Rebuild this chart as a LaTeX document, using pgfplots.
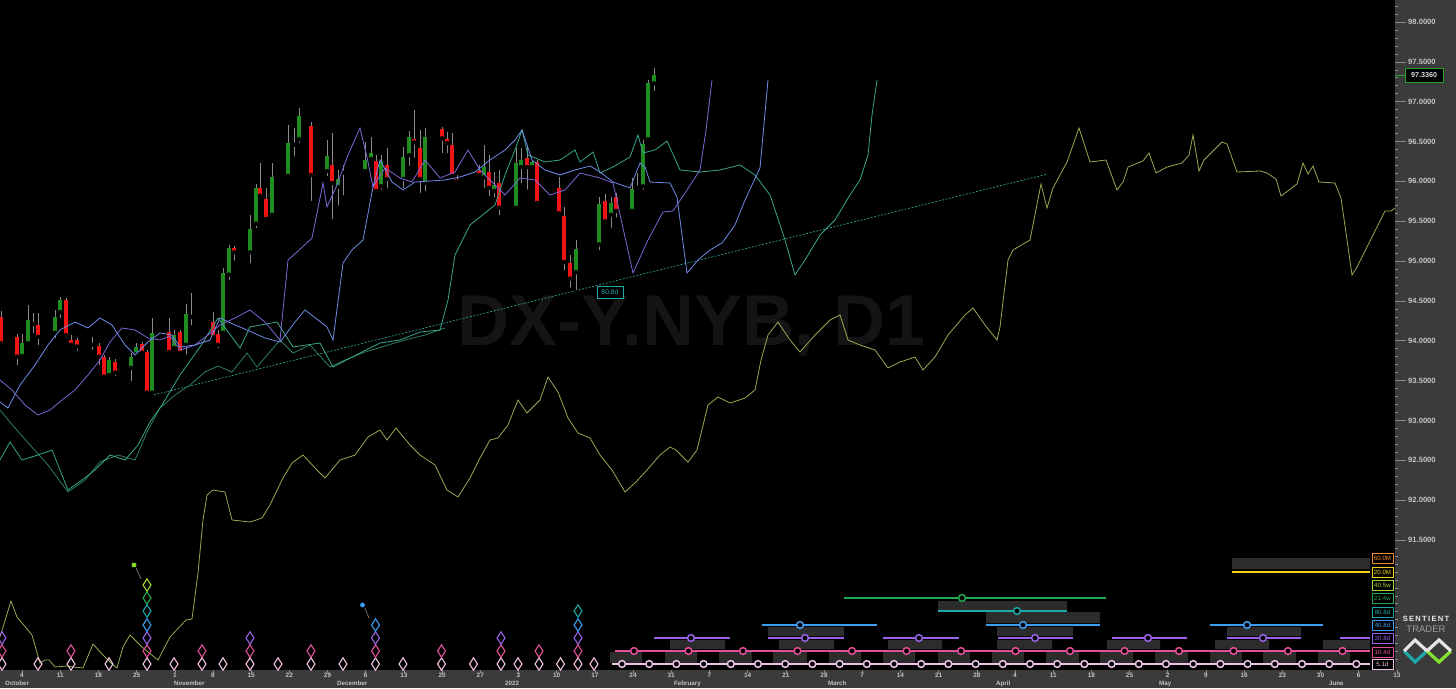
\documentclass[border=0pt]{standalone}
\usepackage{pgfplots}
\pgfplotsset{compat=1.18}
\usepackage{pgfplotstable}
\usepackage{fontspec}
\setmainfont{Liberation Sans}

\definecolor{panel}{HTML}{3B3B3B}
\definecolor{tickc}{HTML}{8C8C8C}
\definecolor{labc}{HTML}{C4C4C4}
\definecolor{upc}{HTML}{1E8C1E}
\definecolor{dnc}{HTML}{F01414}
\definecolor{wickc}{HTML}{8A8A8A}
\definecolor{wm}{HTML}{141414}
\definecolor{trendc}{HTML}{2E9E8E}
\definecolor{lblue}{HTML}{6F8CE6}
\definecolor{lpurple}{HTML}{7E66D6}
\definecolor{lteal}{HTML}{3AA58F}
\definecolor{lgreen}{HTML}{2E7E62}
\definecolor{olive}{HTML}{94AC52}
\definecolor{c51}{HTML}{EEC4E2}
\definecolor{c104}{HTML}{E2509A}
\definecolor{c208}{HTML}{9A62E6}
\definecolor{c408}{HTML}{3D9DF0}
\definecolor{c808}{HTML}{1FA8A8}
\definecolor{c214}{HTML}{22A850}
\definecolor{c405}{HTML}{A4D838}
\definecolor{c20M}{HTML}{F2D21E}
\definecolor{c60M}{HTML}{F08A24}
\definecolor{rectc}{HTML}{2C2C2C}
\definecolor{cpb}{HTML}{22A022}

% candles: x (pixel position), open, high, low, close
\pgfplotstableread{
x o h l c
22 93.81 94.09 93.78 93.97
28 93.97 94.45 93.95 94.26
55 94.10 94.39 94.01 94.30
60 94.36 94.55 94.26 94.51
92 93.95 94.05 93.86 93.96
109 93.57 93.80 93.53 93.76
131 93.66 93.85 93.47 93.80
136 93.83 93.97 93.80 93.92
152 93.35 94.29 93.30 94.10
174 93.91 94.14 93.86 94.07
186 93.95 94.46 93.80 94.34
223 94.10 94.91 94.07 94.85
229 94.83 95.20 94.74 95.16
250 95.11 95.58 94.95 95.40
256 95.47 95.97 95.39 95.92
272 95.58 96.23 95.54 96.05
288 96.07 96.71 96.02 96.48
294 96.46 96.67 96.29 96.47
299 96.53 96.92 96.46 96.82
327 96.13 96.52 96.04 96.32
338 95.93 96.14 95.67 96.03
343 96.11 96.21 95.80 96.12
365 96.13 96.49 96.11 96.27
371 96.28 96.56 96.24 96.36
381 95.94 96.33 95.87 96.26
403 96.03 96.43 95.89 96.31
409 96.33 96.63 96.17 96.56
425 95.98 96.67 95.85 96.56
484 96.05 96.46 95.89 96.18
494 95.88 96.12 95.77 95.95
516 95.67 96.42 95.62 96.23
521 96.18 96.42 95.95 96.27
532 96.18 96.27 96.14 96.24
576 94.86 95.26 94.61 95.15
599 95.21 95.80 95.11 95.72
611 95.58 95.80 95.39 95.73
632 95.63 96.04 95.59 95.91
637 95.92 96.11 95.88 95.93
643 95.94 96.52 95.87 96.47
648 96.53 97.27 96.48 97.23
654 97.23 97.42 97.11 97.34
}\candup

\pgfplotstableread{
x o h l c
1 94.30 94.37 93.95 93.97
17 94.05 94.09 93.67 93.80
33 94.24 94.35 94.07 94.21
38 94.20 94.35 93.92 94.05
66 94.51 94.54 94.01 94.07
71 94.01 94.07 93.91 93.95
77 94.01 94.04 93.85 93.93
99 93.93 93.97 93.67 93.80
104 93.80 93.82 93.51 93.55
115 93.73 93.77 93.53 93.60
142 93.96 93.99 93.80 93.85
147 93.86 93.88 93.30 93.35
169 94.11 94.29 93.83 93.86
180 94.11 94.14 93.81 93.85
191 94.32 94.60 94.17 94.30
213 94.24 94.36 94.01 94.05
218 94.09 94.14 93.88 93.95
234 95.16 95.19 94.98 95.11
260 95.92 96.23 95.77 95.82
266 95.78 95.92 95.49 95.53
311 96.70 96.75 95.73 96.08
332 96.21 96.61 95.50 95.98
376 96.26 96.33 95.83 95.88
387 96.21 96.42 95.89 96.03
414 96.53 96.90 96.27 96.49
420 96.42 96.64 95.83 96.03
442 96.66 96.68 96.33 96.54
447 96.53 96.62 96.33 96.48
452 96.46 96.61 96.02 96.07
457 96.03 96.08 95.98 96.00
479 96.13 96.21 96.04 96.08
489 96.12 96.33 95.79 95.92
499 95.98 96.14 95.55 95.67
527 96.29 96.46 95.87 96.18
537 96.24 96.27 95.69 95.73
559 95.92 96.05 95.55 95.60
564 95.57 95.68 94.86 94.99
570 94.98 95.08 94.64 94.78
605 95.75 95.84 95.45 95.50
616 95.80 95.85 95.52 95.63
}\canddn

\begin{document}
\begin{tikzpicture}[x=1pt,y=1pt]
\useasboundingbox (0,0) rectangle (1456,688);
\fill[black] (0,18) rectangle (1395,688);
\fill[panel] (1395,0) rectangle (1456,688);
\fill[panel] (0,0) rectangle (1395,18);
\node[text=wm, font=\fontsize{72}{72}\selectfont\bfseries] at (692,362) {DX-Y.NYB, D1};

% ---------- price axis ----------
\begin{axis}[at={(0pt,18pt)}, anchor=south west, width=1395pt, height=670pt, scale only axis,
  xmin=0, xmax=1395, ymin=89.869, ymax=98.276,
  axis line style={draw=none}, xtick=\empty,
  ytick={91.5,92,92.5,93,93.5,94,94.5,95,95.5,96,96.5,97,97.5,98},
  minor ytick={90,90.1,...,98.2},
  ytick pos=right, yticklabel pos=right, tick align=outside,
  major tick length=11pt, minor tick length=3pt,
  tick style={tickc, line width=0.6pt},
  /pgf/number format/assume math mode=true,
  yticklabel style={/pgf/number format/.cd, fixed, fixed zerofill, precision=4, /tikz/.cd,
     font=\fontsize{7.6}{8}\selectfont\bfseries, text=labc, inner sep=2pt},
  clip=false]
% wicks
\addplot[only marks, mark=none, forget plot, error bars/.cd, y dir=plus, y explicit, error mark=none,
  error bar style={line width=0.8pt, wickc}] table[x=x, y=l, y error plus expr=\thisrow{h}-\thisrow{l}] {\candup};
\addplot[only marks, mark=none, forget plot, error bars/.cd, y dir=plus, y explicit, error mark=none,
  error bar style={line width=0.8pt, wickc}] table[x=x, y=l, y error plus expr=\thisrow{h}-\thisrow{l}] {\canddn};
% bodies
\addplot[only marks, mark=none, forget plot, error bars/.cd, y dir=plus, y explicit, error mark=none,
  error bar style={line width=4.4pt, upc}] table[x=x, y=o, y error plus expr=\thisrow{c}-\thisrow{o}] {\candup};
\addplot[only marks, mark=none, forget plot, error bars/.cd, y dir=plus, y explicit, error mark=none,
  error bar style={line width=4.4pt, dnc}] table[x=x, y=c, y error plus expr=\thisrow{o}-\thisrow{c}] {\canddn};
% trend line
\addplot[trendc, line width=0.7pt, dash pattern=on 2pt off 1.5pt] coordinates {(147,93.30) (1047,96.09)};
\node[draw=c808, text=c808, fill=black, font=\fontsize{6.8}{7}\selectfont, inner sep=0pt,
  minimum width=26pt, minimum height=12pt, line width=0.6pt] at (axis cs:610,94.606) {80.8d};
% last price
\addplot[cpb, line width=0.8pt] coordinates {(1395,97.336) (1405,97.336)};
\node[draw=cpb, fill=black, text=white!85!black, font=\fontsize{7.2}{7}\selectfont\bfseries,
  inner sep=0pt, minimum width=38pt, minimum height=14pt, line width=0.8pt] at (axis cs:1424,97.336) {97.3360};
\end{axis}

% ---------- indicator / cycle panel (pixel units, y downward) ----------
\begin{axis}[at={(0pt,18pt)}, anchor=south west, width=1395pt, height=670pt, scale only axis,
  xmin=0, xmax=1395, ymin=0, ymax=670, y dir=reverse, hide axis, unbounded coords=jump]
% cycle lines over the price
\addplot[lgreen, line width=0.8pt] coordinates {(0,410) (15,428) (30,445) (48,465) (68,492) (85,480) (100,462) (118,455) (135,460) (148,430) (160,408) (175,395) (190,385) (205,372) (218,366) (232,372) (247,353) (257,367) (280,340) (293,353) (310,345) (330,367) (345,360) (365,352) (385,346) (405,340) (425,335) (445,328)};
\addplot[lteal, line width=0.8pt] coordinates {(0,460) (10,442) (22,460) (38,455) (52,450) (68,490) (82,480) (95,470) (110,455) (125,460) (138,445) (150,422) (162,405) (180,375) (200,347) (218,318) (240,348) (250,327) (277,322) (293,347) (320,343) (333,367) (360,353) (380,343) (400,340) (420,332) (440,330) (448,300) (455,255) (470,225) (485,213) (495,205) (505,175) (515,150) (522,130) (528,155) (545,162) (560,160) (575,150) (580,162) (593,152) (600,173) (613,167) (630,157) (638,135) (643,153) (655,150) (667,141) (680,170) (700,172) (720,170) (740,165) (755,175) (770,195) (785,240) (795,275) (805,260) (820,235) (835,220) (850,195) (860,180) (868,155) (872,115) (877,80)};
\addplot[lpurple, line width=0.8pt] coordinates {(0,380) (12,390) (25,405) (38,415) (50,410) (62,400) (75,390) (88,375) (100,360) (110,342) (122,328) (135,330) (148,338) (160,340) (170,336) (180,350) (195,345) (208,335) (220,325) (235,318) (250,310) (265,322) (280,340) (288,260) (297,252) (312,238) (323,183) (327,207) (337,185) (348,155) (360,128) (367,157) (373,187) (385,168) (400,178) (412,182) (425,160) (440,178) (455,172) (468,150) (480,170) (493,183) (505,195) (520,178) (535,180) (550,195) (565,190) (580,173) (600,178) (613,183) (633,273) (648,240) (663,212) (673,211) (687,190) (700,170) (706,130) (712,80)};
\addplot[lblue, line width=0.8pt] coordinates {(0,402) (8,408) (20,385) (35,365) (48,345) (60,330) (75,322) (88,328) (100,318) (112,325) (125,345) (135,355) (148,342) (160,333) (172,335) (180,347) (195,345) (210,340) (220,318) (235,325) (247,330) (265,338) (280,342) (295,322) (305,310) (318,320) (327,327) (333,340) (343,263) (352,250) (363,240) (373,187) (380,160) (392,182) (403,190) (415,182) (430,181) (445,180) (460,177) (475,172) (490,160) (505,150) (515,140) (522,130) (532,160) (545,170) (560,175) (575,170) (590,166) (600,172) (613,182) (630,188) (640,163) (645,167) (650,182) (670,183) (677,197) (687,273) (698,260) (710,250) (722,243) (735,225) (745,200) (752,185) (760,168) (768,80)};
\addplot[olive, line width=0.8pt] coordinates {(0,637) (11,601) (17,617) (32,635) (40,663) (45,660) (49,660) (55,667) (67,666) (73,667) (83,668) (93,644) (103,655) (111,663) (117,668) (123,647) (130,635) (142,647) (158,660) (170,637) (186,620) (192,619) (198,573) (203,520) (207,495) (213,490) (225,492) (232,520) (250,522) (262,518) (270,505) (283,478) (292,463) (303,455) (317,470) (325,478) (340,460) (355,455) (368,437) (380,430) (387,440) (396,428) (410,445) (420,455) (435,465) (447,490) (458,497) (470,478) (480,458) (490,440) (498,438) (508,425) (518,400) (527,413) (540,400) (548,377) (558,392) (568,418) (578,433) (590,438) (600,455) (612,470) (625,492) (635,483) (647,470) (660,455) (670,447) (676,450) (688,462) (697,450) (708,405) (718,397) (730,403) (745,398) (755,390) (761,360) (768,335) (778,322) (790,340) (800,352) (815,335) (830,320) (840,315) (848,340) (860,345) (875,350) (888,368) (900,362) (915,357) (923,370) (935,357) (948,335) (965,315) (973,308) (985,325) (997,340) (1000,327) (1008,260) (1013,250) (1030,240) (1041,184) (1047,208) (1053,188) (1067,162) (1079,128) (1090,162) (1106,160) (1117,190) (1123,182) (1128,167) (1143,161) (1149,153) (1156,173) (1167,167) (1182,163) (1189,155) (1193,135) (1199,171) (1204,160) (1222,142) (1227,144) (1237,172) (1260,171) (1267,173) (1276,179) (1281,196) (1297,184) (1303,163) (1308,174) (1313,166) (1319,182) (1335,183) (1341,198) (1352,275) (1357,267) (1385,211) (1391,211) (1395,208)};

% cycle shaded boxes (each box: four corners, boxes separated by a jump)
\addplot[fill=rectc, draw=none] coordinates {
(938,601) (1067,601) (1067,610) (938,610) (938,nan)
(986,612) (1100,612) (1100,623) (986,623) (986,nan)
(768,627) (844,627) (844,636) (768,636) (768,nan)
(997,627) (1073,627) (1073,636) (997,636) (997,nan)
(1227,627) (1301,627) (1301,636) (1227,636) (1227,nan)
(670,640) (725,640) (725,649) (670,649) (670,nan)
(779,640) (834,640) (834,649) (779,649) (779,nan)
(888,640) (942,640) (942,649) (888,649) (888,nan)
(997,640) (1052,640) (1052,649) (997,649) (997,nan)
(1107,640) (1160,640) (1160,649) (1107,649) (1107,nan)
(1215,640) (1269,640) (1269,649) (1215,649) (1215,nan)
(1323,640) (1370,640) (1370,649) (1323,649) (1323,nan)
(610,652) (642,652) (642,663) (610,663) (610,nan)
(665,652) (697,652) (697,663) (665,663) (665,nan)
(719,652) (752,652) (752,663) (719,663) (719,nan)
(773,652) (807,652) (807,663) (773,663) (773,nan)
(829,652) (861,652) (861,663) (829,663) (829,nan)
(883,652) (915,652) (915,663) (883,663) (883,nan)
(938,652) (970,652) (970,663) (938,663) (938,nan)
(992,652) (1024,652) (1024,663) (992,663) (992,nan)
(1046,652) (1079,652) (1079,663) (1046,663) (1046,nan)
(1100,652) (1133,652) (1133,663) (1100,663) (1100,nan)
(1155,652) (1188,652) (1188,663) (1155,663) (1155,nan)
(1210,652) (1242,652) (1242,663) (1210,663) (1210,nan)
(1263,652) (1296,652) (1296,663) (1263,663) (1263,nan)
(1318,652) (1350,652) (1350,663) (1318,663) (1318,nan)
(1232,558) (1370,558) (1370,569) (1232,569)
};

% cycle bars
\addplot[c20M, line width=2.6pt] coordinates {(1232,572) (1370,572)};
\addplot[c214, line width=2.2pt] coordinates {(844,598) (1106,598)};
\addplot[c808, line width=2.2pt] coordinates {(938,611) (1067,611)};
\addplot[c408, line width=2.2pt] coordinates {(762,625) (877,625) (877,nan) (986,625) (1100,625) (1100,nan) (1210,625) (1323,625)};
\addplot[c208, line width=2.2pt] coordinates {(654,638) (730,638) (730,nan) (768,638) (844,638) (844,nan) (883,638) (959,638) (959,nan) (998,638) (1073,638) (1073,nan) (1112,638) (1187,638) (1187,nan) (1227,638) (1301,638) (1301,nan) (1340,638) (1370,638)};
\addplot[c104, line width=2.2pt] coordinates {(615,651) (1370,651)};
\addplot[c51, line width=2.2pt] coordinates {(612,664) (1370,664)};
\addplot[only marks, mark=*, mark size=3.4pt, mark options={fill=black, draw=c214, line width=1.5pt}] coordinates {(962,598)};
\addplot[only marks, mark=*, mark size=3.4pt, mark options={fill=black, draw=c808, line width=1.5pt}] coordinates {(1017,611)};
\addplot[only marks, mark=*, mark size=3.4pt, mark options={fill=black, draw=c408, line width=1.5pt}] coordinates {(800,625) (1023,625) (1247,625)};
\addplot[only marks, mark=*, mark size=3.4pt, mark options={fill=black, draw=c208, line width=1.5pt}] coordinates {(691,638) (805,638) (919,638) (1035,638) (1148,638) (1263,638)};
\addplot[only marks, mark=*, mark size=3.4pt, mark options={fill=black, draw=c104, line width=1.5pt}] coordinates {(634,651) (688.5,651) (743,651) (797.5,651) (852,651) (906.5,651) (961,651) (1015.5,651) (1070,651) (1124.5,651) (1179,651) (1233.5,651) (1288,651) (1342.5,651)};
\addplot[only marks, mark=*, mark size=3.4pt, mark options={fill=black, draw=c51, line width=1.5pt}] coordinates {(622,664) (649.2,664) (676.4,664) (703.6,664) (730.8,664) (758,664) (785.2,664) (812.4,664) (839.6,664) (866.8,664) (894,664) (921.2,664) (948.4,664) (975.6,664) (1002.8,664) (1030,664) (1057.2,664) (1084.4,664) (1111.6,664) (1138.8,664) (1166,664) (1193.2,664) (1220.4,664) (1247.6,664) (1274.8,664) (1302,664) (1329.2,664) (1356.4,664)};

% cycle troughs (diamonds)
\addplot[only marks, mark=diamond, mark size=6.2pt, mark options={draw=c51, fill=none, line width=1.1pt, xscale=0.85}] coordinates {(2,664) (38,664) (71,664) (109,664) (147,664) (174,664) (202,664) (223,664) (250,664) (278,664) (311,664) (343,664) (375.5,664) (403,664) (441.5,664) (473.5,664) (501,664) (518,664) (539,664) (560.5,664) (578,664) (594,664)};
\addplot[only marks, mark=diamond, mark size=6.2pt, mark options={draw=c104, fill=none, line width=1.1pt, xscale=0.85}] coordinates {(2,651) (71,651) (147,651) (202,651) (250,651) (311,651) (375.5,651) (441.5,651) (501,651) (539,651) (578,651)};
\addplot[only marks, mark=diamond, mark size=6.2pt, mark options={draw=c208, fill=none, line width=1.1pt, xscale=0.85}] coordinates {(2,638) (147,638) (250,638) (375.5,638) (501,638) (578,638)};
\addplot[only marks, mark=diamond, mark size=6.2pt, mark options={draw=c408, fill=none, line width=1.1pt, xscale=0.85}] coordinates {(147,625) (375.5,625) (578,625)};
\addplot[only marks, mark=diamond, mark size=6.2pt, mark options={draw=c808, fill=none, line width=1.1pt, xscale=0.85}] coordinates {(147,611) (578,611)};
\addplot[only marks, mark=diamond, mark size=6.2pt, mark options={draw=c214, fill=none, line width=1.1pt, xscale=0.85}] coordinates {(147,598)};
\addplot[only marks, mark=diamond, mark size=6.2pt, mark options={draw=c405, fill=none, line width=1.1pt, xscale=0.85}] coordinates {(147,585)};
% pins
\addplot[wickc, line width=0.6pt] coordinates {(136,568) (141,579)};
\addplot[wickc, line width=0.6pt] coordinates {(365,608) (369,618)};
\addplot[only marks, mark=*, mark size=2.8pt, mark options={draw=none, fill=c405!80!green}] coordinates {(134,565)};
\addplot[only marks, mark=*, mark size=2.8pt, mark options={draw=none, fill=c408}] coordinates {(362.5,605)};

% cycle labels
\begin{scope}[every node/.style={fill=black, inner sep=0pt, minimum width=21pt, minimum height=10pt, line width=0.6pt, font=\fontsize{6.2}{6.5}\selectfont}]
\node[draw=c60M, text=c60M] at (axis cs:1382.5,558) {60.0M};
\node[draw=c20M, text=c20M] at (axis cs:1382.5,572) {20.0M};
\node[draw=c405, text=c405] at (axis cs:1382.5,585) {40.5w};
\node[draw=c214, text=c214] at (axis cs:1382.5,598) {21.4w};
\node[draw=c808, text=c808] at (axis cs:1382.5,612) {80.8d};
\node[draw=c408, text=c408] at (axis cs:1382.5,625.5) {40.8d};
\node[draw=c208, text=c208] at (axis cs:1382.5,638.5) {20.8d};
\node[draw=c104, text=c104] at (axis cs:1382.5,652) {10.4d};
\node[draw=c51, text=c51] at (axis cs:1382.5,664.5) {5.1d};
\end{scope}
\end{axis}

% ---------- date axis ----------
\begin{axis}[at={(0pt,18pt)}, anchor=south west, width=1400pt, height=670pt, scale only axis,
  xmin=0, xmax=1400, ymin=0, ymax=1, axis line style={draw=none}, ytick=\empty,
  xtick={22,60.2,98.4,136.6,174.8,213,251.1,289.3,327.5,365.7,403.9,442.1,480.3,518.5,556.7,594.9,633,671.2,709.4,747.6,785.8,824,862.2,900.4,938.6,976.8,1015,1053.2,1091.4,1129.5,1167.7,1205.9,1244.1,1282.3,1320.5,1358.7,1396.9},
  xticklabels={4,11,18,25,1,8,15,22,29,6,13,20,27,3,10,17,24,31,7,14,21,28,7,14,21,28,4,11,18,25,2,9,16,23,30,6,13},
  minor x tick num=6, xtick pos=left, tick align=outside,
  major tick length=3pt, minor tick length=2.5pt, tick style={tickc, line width=0.6pt},
  xticklabel style={font=\fontsize{6.4}{6.4}\selectfont\bfseries, text=labc, inner sep=0pt, anchor=north},
  clip=false]
\begin{scope}[every node/.style={anchor=north west, inner sep=0pt, text=labc, font=\fontsize{6.2}{6.2}\selectfont\bfseries}]
\node at (axis cs:5,0) [yshift=-11pt] {October};
\node at (axis cs:174,0) [yshift=-11pt] {November};
\node at (axis cs:337,0) [yshift=-11pt] {December};
\node at (axis cs:505,0) [yshift=-11pt] {2022};
\node at (axis cs:674,0) [yshift=-11pt] {February};
\node at (axis cs:828,0) [yshift=-11pt] {March};
\node at (axis cs:996,0) [yshift=-11pt] {April};
\node at (axis cs:1159,0) [yshift=-11pt] {May};
\node at (axis cs:1329,0) [yshift=-11pt] {June};
\end{scope}
\end{axis}

% ---------- logo ----------
\node[text=white!92!black, font=\fontsize{7.6}{8}\selectfont\bfseries] at (1426,69) {S\,E\,N\,T\,I\,E\,N\,T};
\node[text=white!62!black, font=\fontsize{9.5}{10}\selectfont] at (1426,59) {TRADER};
\draw[line width=3.2pt, c808] (1404,37) -- (1415,26) -- (1427,37);
\draw[line width=3.2pt, white!90!black] (1404,37) -- (1415,48) -- (1427,37);
\draw[line width=3.2pt, c405!80!green] (1427,37) -- (1439,26) -- (1451,37);
\draw[line width=3.2pt, white!90!black] (1427,37) -- (1439,48) -- (1451,37);
\end{tikzpicture}
\end{document}
